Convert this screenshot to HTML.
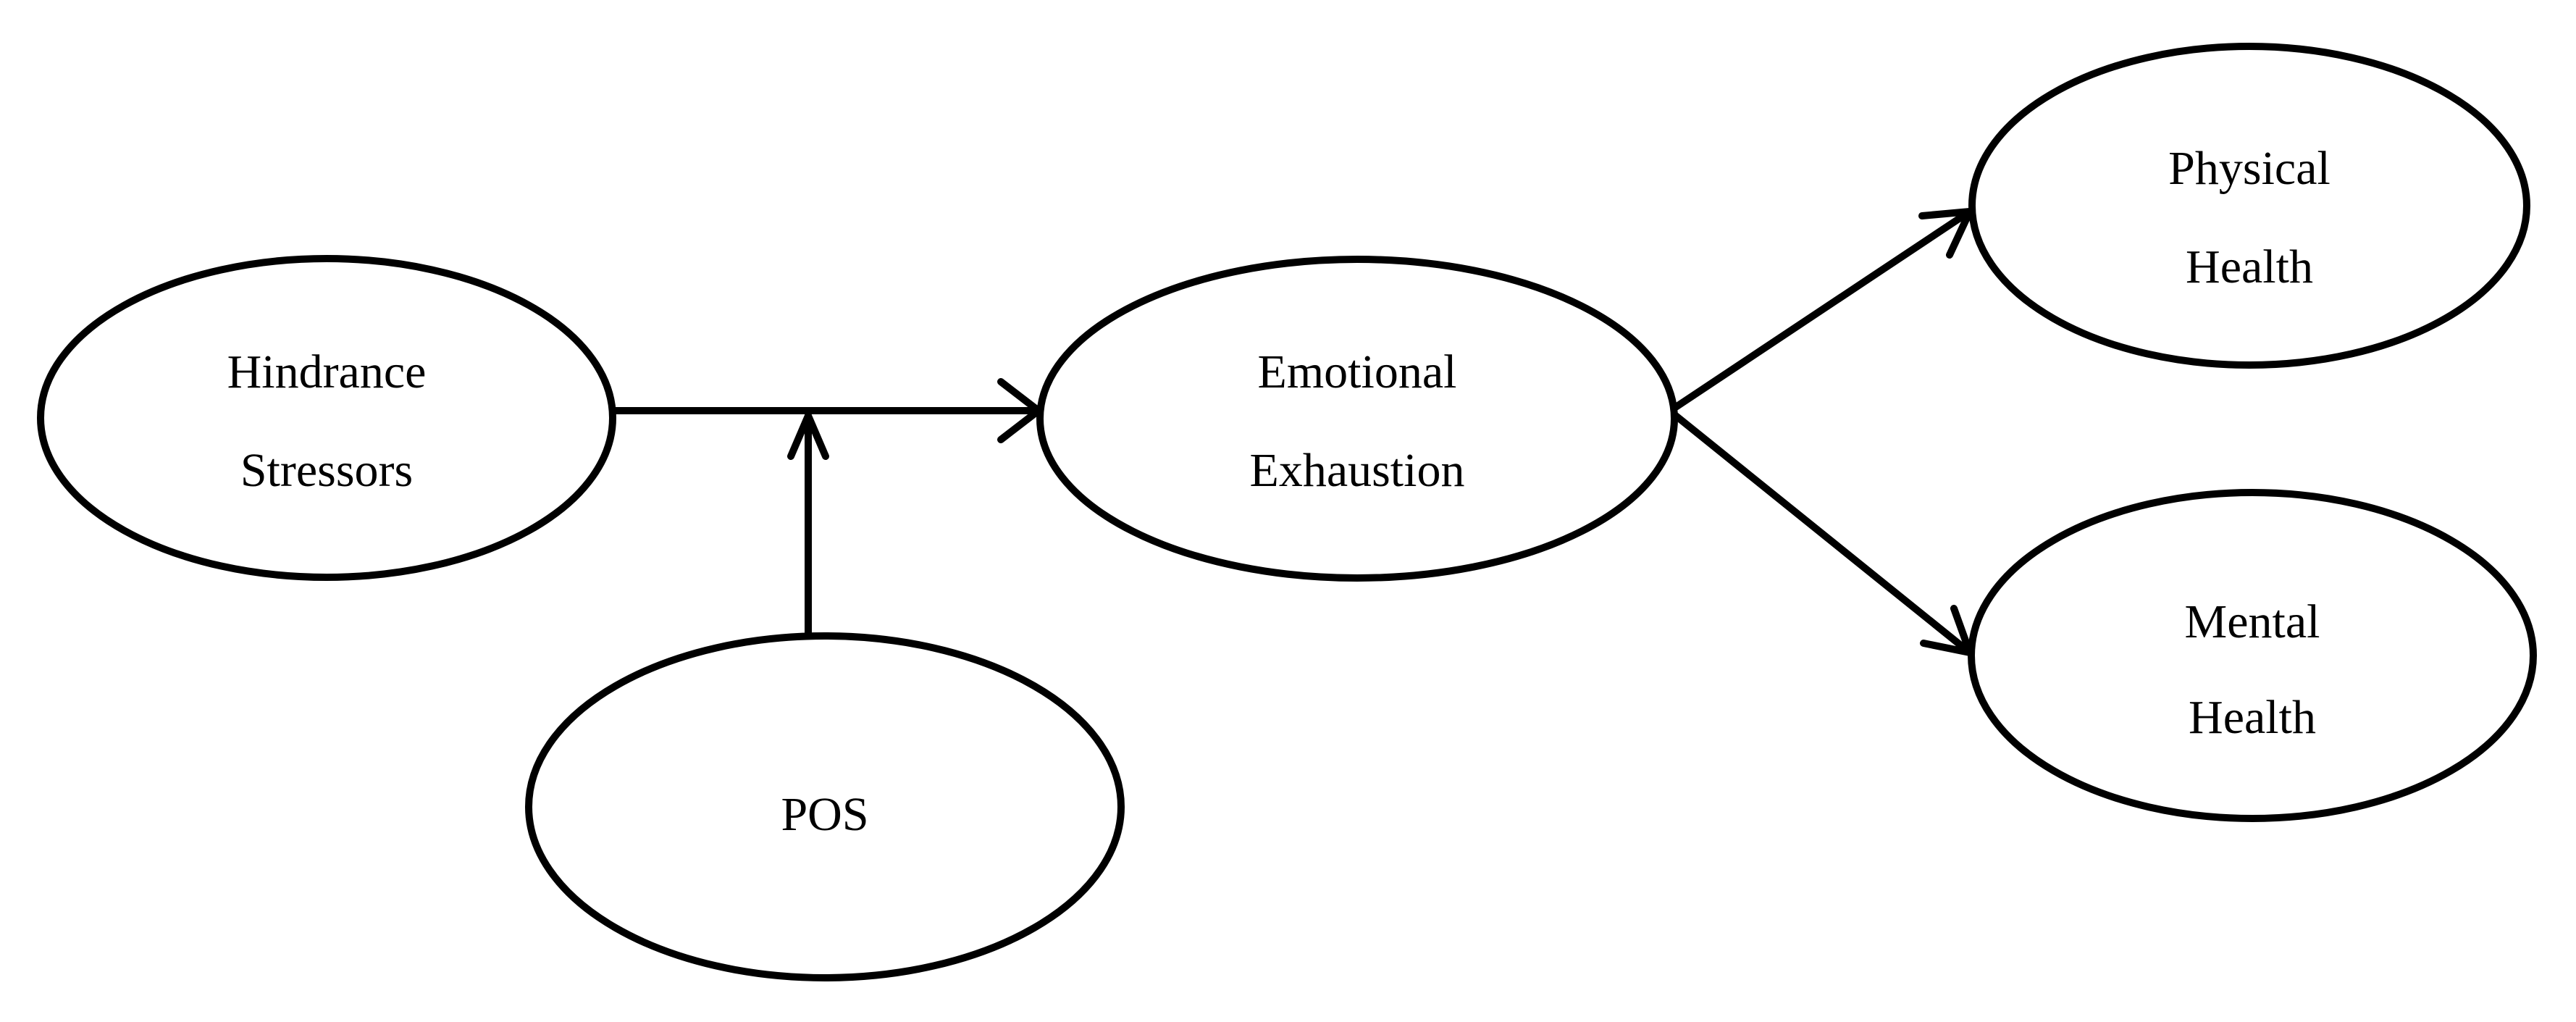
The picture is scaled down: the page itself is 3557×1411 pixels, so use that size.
<!DOCTYPE html>
<html><head><style>html,body{margin:0;padding:0;background:#fff}svg{display:block}</style></head>
<body>
<svg width="3557" height="1411" viewBox="0 0 3557 1411" xmlns="http://www.w3.org/2000/svg">
<g fill="none" stroke="#000" stroke-width="10" stroke-linecap="round" stroke-linejoin="round">
<ellipse cx="451" cy="577" rx="395" ry="220"/>
<ellipse cx="1874" cy="578" rx="438" ry="220"/>
<ellipse cx="3106" cy="284" rx="383" ry="220"/>
<ellipse cx="3110" cy="905" rx="388" ry="225"/>
<ellipse cx="1139" cy="1114" rx="409" ry="236"/>
<line x1="846" y1="567" x2="1434" y2="567"/>
<polyline points="1382,527 1434,567 1382,607"/>
<line x1="1116" y1="873" x2="1116" y2="574"/>
<polyline points="1092,630 1116,574 1140,630"/>
<line x1="2314" y1="562" x2="2720" y2="292"/>
<polyline points="2654,298 2720,292 2692,352"/>
<line x1="2314" y1="574" x2="2720" y2="901"/>
<polyline points="2698,840 2720,901 2656,888"/>
</g>
<g font-family="'Liberation Serif', serif" font-size="66" text-anchor="middle" fill="#000">
<text x="451" y="535">Hindrance</text>
<text x="451" y="671">Stressors</text>
<text x="1874" y="535">Emotional</text>
<text x="1874" y="671">Exhaustion</text>
<text x="3106" y="254">Physical</text>
<text x="3106" y="390">Health</text>
<text x="3110" y="880">Mental</text>
<text x="3110" y="1012">Health</text>
<text x="1139" y="1146">POS</text>
</g>
</svg>
</body></html>
